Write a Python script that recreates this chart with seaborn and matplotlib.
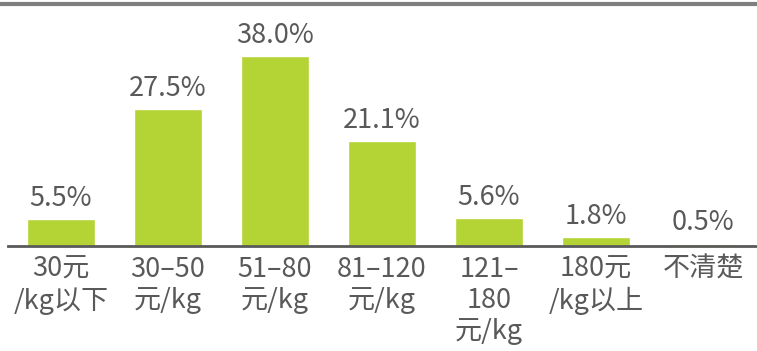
import matplotlib
matplotlib.use("Agg")
import matplotlib.pyplot as plt
import seaborn as sns
import pandas as pd
from matplotlib.lines import Line2D

categories = ["30元\n/kg以下", "30–50\n元/kg", "51–80\n元/kg", "81–120\n元/kg",
              "121–\n180\n元/kg", "180元\n/kg以上", "不清楚"]
values = [5.5, 27.5, 38.0, 21.1, 5.6, 1.8, 0.5]

sns.set_style("white")
plt.rcParams['font.family'] = ['Noto Sans CJK SC', 'DejaVu Sans']

df = pd.DataFrame({'cat': categories, 'val': values})

fig = plt.figure(figsize=(7.57, 3.51), dpi=100)
ax = fig.add_axes([7.5 / 757, (351 - 246) / 351, 749 / 757, 242 / 351])
sns.barplot(data=df, x='cat', y='val', color='#b4d334', saturation=1,
            width=0.63, ax=ax)

grey = '#595959'
for i, v in enumerate(values):
    ax.text(i, v + 1.4, f"{v:.1f}%", ha='center', va='bottom',
            fontsize=19.5, color=grey)

ax.set_xlim(-0.5, 6.5)
ax.set_ylim(0, 48.4)
ax.set_xlabel('')
ax.set_ylabel('')
ax.set_yticks([])
ax.tick_params(axis='x', length=0, pad=7, labelsize=19.5, labelcolor=grey)
for lab in ax.get_xticklabels():
    lab.set_linespacing(1.2)
for s in ['top', 'left', 'right']:
    ax.spines[s].set_visible(False)
ax.spines['bottom'].set_color(grey)
ax.spines['bottom'].set_linewidth(2)

fig.add_artist(Line2D([0, 1], [1 - 4 / 351, 1 - 4 / 351], color='#7f7f7f',
                      linewidth=3, transform=fig.transFigure))

fig.savefig('out.png', dpi=100)
